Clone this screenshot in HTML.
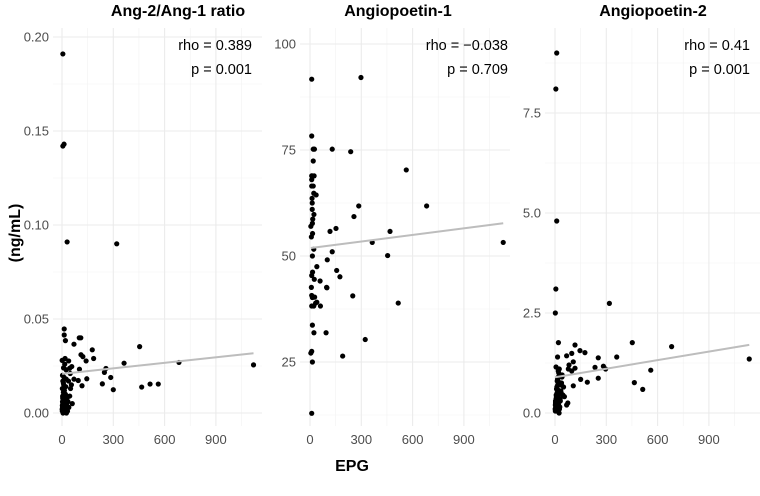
<!DOCTYPE html>
<html><head><meta charset="utf-8"><style>
html,body{margin:0;padding:0;background:#fff}
svg{display:block;font-family:"Liberation Sans",sans-serif}
</style></head><body>
<svg id="chart" width="760" height="496" viewBox="0 0 760 496"></svg>
<script>
// ---- data ----
const xTicks = [0, 300, 600, 900];
const panelTitles = ["Ang-2/Ang-1 ratio", "Angiopoetin-1", "Angiopoetin-2"];
const rhoLabels = ["rho = 0.389", "rho = \u22120.038", "rho = 0.41"];
const pLabels = ["p = 0.001", "p = 0.709", "p = 0.001"];
const yTicks1 = [0, 0.05, 0.10, 0.15, 0.20];
const yTickLabels1 = ["0.00", "0.05", "0.10", "0.15", "0.20"];
const yTicks2 = [25, 50, 75, 100];
const yTickLabels2 = ["25", "50", "75", "100"];
const yTicks3 = [0, 2.5, 5.0, 7.5];
const yTickLabels3 = ["0.0", "2.5", "5.0", "7.5"];

const epg1 = [5,5,12,30,320,13,13,20,70,101,110,177,111,122,141,185,454,363,684,1120,257,248,285,236,300,466,515,563,145,117,95,102,57,18,39,45,
  2,3,5,6,4,8,2,10,5,12,3,15,18,20,22,25,28,30,8,14,35,40,45,50,38,55,60,9,1,16,24,32,48,70,6,26,
  1,2,3,4,5,6,7,8,9,10,11,12,13,14,15,16,17,18,19,20];
const ratio = [0.191,0.142,0.143,0.091,0.090,0.0447,0.0415,0.0385,0.0366,0.040,0.040,0.0336,0.031,0.030,0.0277,0.029,0.0353,0.0265,0.0269,0.0256,0.0237,0.0216,0.0189,0.0155,0.0124,0.0138,0.0154,0.0154,0.0182,0.0145,0.0173,0.0233,0.0247,0.029,0.0277,0.0238,
  0.001,0.003,0.005,0.007,0.009,0.011,0.013,0.015,0.017,0.019,0.020,0.002,0.006,0.010,0.014,0.018,0.004,0.008,0.016,0.012,0.006,0.003,0.009,0.013,0.017,0.015,0.005,0.024,0.028,0.026,0.023,0.001,0.021,0.018,0.0,0.0,
  0.002,0.004,0.006,0.008,0.003,0.005,0.007,0.001,0.009,0.004,0.006,0.002,0.008,0.005,0.003,0.007,0.004,0.006,0.002,0.009];

const epg2 = [10,298,10,19,26,130,238,19,563,10,12,24,10,10,19,22,36,12,13,285,682,13,23,257,16,14,5,152,117,468,15,8,364,1130,22,130,14,454,101,40,156,175,15,10,25,59,99,97,8,10,14,27,250,516,10,22,33,40,61,14,23,94,323,191,10,5,14,10];
const ang1 = [91.7,92.1,78.3,75.2,75.2,75.2,74.6,72.4,70.3,68.9,68.9,68.9,68.0,66.5,66.5,64.8,64.4,63.6,62.5,61.8,61.8,61.0,59.8,59.3,58.7,57.7,57.0,56.5,55.8,55.8,55.3,54.5,53.2,53.2,51.6,51.0,50.0,50.1,49.1,47.5,46.6,45.1,46.2,45.4,44.5,44.1,42.5,42.6,42.6,40.7,40.2,40.3,40.6,38.9,38.2,38.2,38.9,39.1,38.2,33.7,31.9,31.9,30.3,26.4,27.5,27.1,25.0,12.9];

const epg3 = [10,5,2,10,5,318,452,682,1136,361,253,117,146,175,98,68,20,15,107,234,296,283,253,150,189,107,464,513,560,78,98,117,82,55,68,75,
  2,4,6,8,10,12,14,16,18,20,22,25,28,30,34,38,42,46,50,3,7,11,15,19,24,29,33,37,41,6,9,13,17,21,26,31,36,
  1,2,3,4,5,6,7,8,9,10,11,12,13,14,15,16,17,18,19,20];
const ang2 = [9.0,8.1,2.5,4.8,3.1,2.74,1.76,1.66,1.35,1.4,1.38,1.7,1.56,1.51,1.49,1.43,1.76,1.4,1.28,1.14,1.10,1.17,0.87,0.84,0.77,0.68,0.76,0.59,1.07,1.1,1.05,1.12,1.2,0.41,0.2,0.25,
  0.05,0.1,0.2,0.3,0.4,0.5,0.6,0.7,0.8,0.9,1.0,1.1,0.15,0.35,0.55,0.75,0.95,0.45,0.65,0.25,0.45,0.65,0.85,1.05,0.0,0.3,0.5,0.7,0.9,1.15,0.6,0.8,0.4,0.2,0.1,0.3,0.5,
  0.1,0.2,0.3,0.15,0.25,0.35,0.05,0.4,0.2,0.3,0.1,0.45,0.25,0.15,0.35,0.2,0.3,0.1,0.4,0.25];

// ---- layout ----
const svg = document.getElementById('chart');
const NS = 'http://www.w3.org/2000/svg';
function mk(tag, attrs, parent) {
  const e = document.createElementNS(NS, tag);
  for (const k in attrs) e.setAttribute(k, attrs[k]);
  (parent || svg).appendChild(e);
  return e;
}
const TOP = 28, BOT = 426, KX = 0.171;
const panels = [
  {left:53, right:262, x0:62, titleX:178, textR:252, xs:epg1, ys:ratio, ticks:yTicks1, labels:yTickLabels1,
   yf:v=>413 - v*1880, yMin:-0.00693, yMax:0.2053},
  {left:300, right:510, x0:310, titleX:398, textR:508, xs:epg2, ys:ang1, ticks:yTicks2, labels:yTickLabels2,
   yf:v=>256 - (v-50)*4.24, yMin:9.9, yMax:103.8},
  {left:545, right:760, x0:555, titleX:653, textR:750, xs:epg3, ys:ang2, ticks:yTicks3, labels:yTickLabels3,
   yf:v=>413 - v*40, yMin:-0.33, yMax:9.63}
];

panels.forEach((p, i) => {
  const g = mk('g', {});
  
  
  const xf = v => p.x0 + v*KX;
  const step = p.ticks[1]-p.ticks[0];
  for (let v = p.ticks[0]-step/2; v <= p.yMax; v += step) {
    if (v < p.yMin) continue;
    const l = mk('line', {x1:p.left, x2:p.right, y1:p.yf(v), y2:p.yf(v), stroke:'#f2f2f2', 'stroke-width':0.6}, g);
    
    
  }
  [150,450,750,1050].forEach(v => {
    const l = mk('line', {x1:xf(v), x2:xf(v), y1:TOP, y2:BOT, stroke:'#f2f2f2', 'stroke-width':0.6}, g);
    
    
  });
  p.ticks.forEach((v, k) => {
    const l = mk('line', {x1:p.left, x2:p.right, y1:p.yf(v), y2:p.yf(v), stroke:'#ebebeb', 'stroke-width':1.1}, g);
    
    
    const t = mk('text', {x:p.left-4, y:p.yf(v)+4.5, 'text-anchor':'end', 'font-size':13, fill:'#4d4d4d'}, g);
    t.textContent = p.labels[k];
    
    
  });
  xTicks.forEach(v => {
    const l = mk('line', {x1:xf(v), x2:xf(v), y1:TOP, y2:BOT, stroke:'#ebebeb', 'stroke-width':1.1}, g);
    
    
    const t = mk('text', {x:xf(v), y:444, 'text-anchor':'middle', 'font-size':13, fill:'#4d4d4d'}, g);
    t.textContent = String(v);
    
    
  });
  p.xs.forEach((x, k) => {
    const c = mk('circle', {cx:xf(x), cy:p.yf(p.ys[k]), r:2.6, fill:'#000'}, g);
    
    
  });
  const n = p.xs.length;
  const mx = p.xs.reduce((a,b)=>a+b,0)/n, my = p.ys.reduce((a,b)=>a+b,0)/n;
  let sxy=0, sxx=0;
  for (let k=0;k<n;k++){ sxy+=(p.xs[k]-mx)*(p.ys[k]-my); sxx+=(p.xs[k]-mx)**2; }
  const b = sxy/sxx, a = my - b*mx;
  const xmin = Math.min(...p.xs), xmax = Math.max(...p.xs);
  const fl = mk('line', {x1:xf(xmin), y1:p.yf(a+b*xmin), x2:xf(xmax), y2:p.yf(a+b*xmax), stroke:'#bdbdbd', 'stroke-width':2}, g);
  
  
  const tt = mk('text', {x:p.titleX, y:16, 'text-anchor':'middle', 'font-size':16, 'font-weight':'bold', fill:'#000'}, g);
  tt.textContent = panelTitles[i];
  
  
  const r = mk('text', {x:p.textR, y:50, 'text-anchor':'end', 'font-size':14.5, fill:'#000'}, g);
  r.textContent = rhoLabels[i];
  
  
  const pv = mk('text', {x:p.textR, y:74, 'text-anchor':'end', 'font-size':14.5, fill:'#000'}, g);
  pv.textContent = pLabels[i];
  
  
});

const xt = mk('text', {x:352, y:471, 'text-anchor':'middle', 'font-size':16, 'font-weight':'bold', fill:'#000'});
xt.textContent = 'EPG';


const yt = mk('text', {x:0, y:0, 'text-anchor':'middle', 'font-size':16, 'font-weight':'bold', fill:'#000', transform:'translate(20,233) rotate(-90)'});
yt.textContent = '(ng/mL)';


</script>
</body></html>
